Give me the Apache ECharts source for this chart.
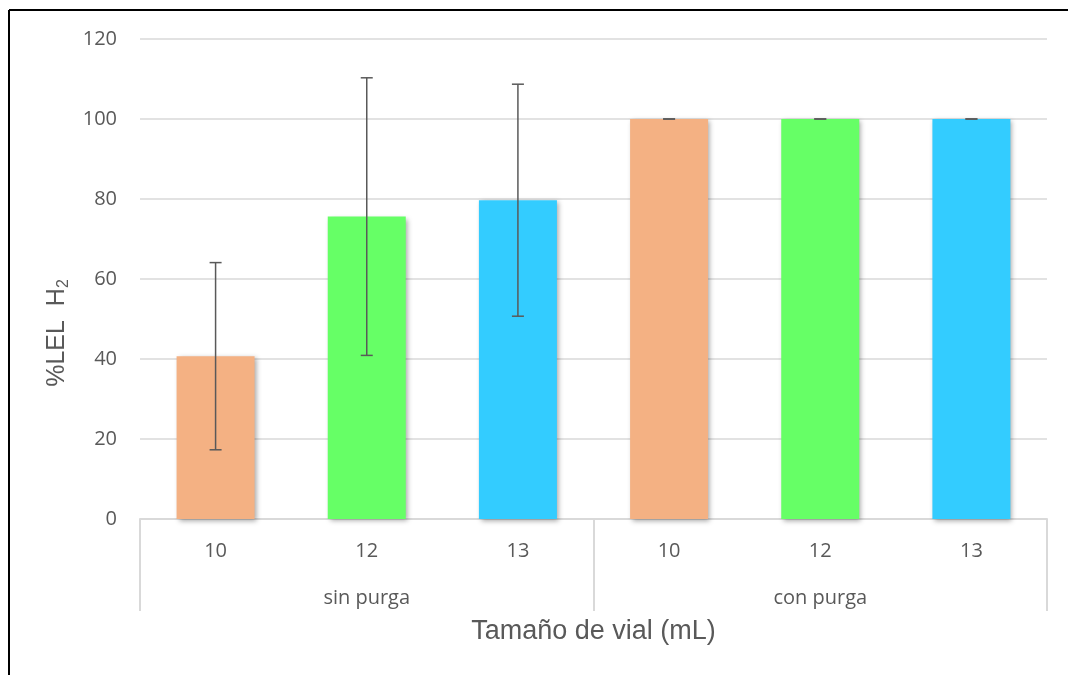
<!DOCTYPE html>
<html>
<head>
<meta charset="utf-8">
<script src="https://cdn.jsdelivr.net/npm/echarts@6/dist/echarts.min.js"></script>
<style>
html,body{margin:0;padding:0;background:#fff;}
#c{width:1068px;height:675px;}
</style>
</head>
<body>
<div id="c"></div>
<script>
const categories = ['10', '12', '13', '10', '12', '13'];
const groups = ['sin purga', 'con purga'];
const means = [40.7, 75.6, 79.7, 100, 100, 100];
const errors = [23.4, 34.7, 29.0, 0, 0, 0];
const yTicks = [0, 20, 40, 60, 80, 100, 120];

const palette = ['#F4B183', '#66FF66', '#33CCFF'];
const textColor = '#595959';
const gridColor = '#d9d9d9';

const chart = echarts.init(document.getElementById('c'), null, {renderer: 'canvas'});

const barData = means.map((v, i) => ({
  value: v,
  itemStyle: { color: palette[i % 3] }
}));
const errData = means.map((v, i) => [i, v - errors[i], v + errors[i]]);

const option = {
  animation: false,
  backgroundColor: '#ffffff',
  grid: { left: 140, right: 21, top: 39, bottom: 156, containLabel: false },
  xAxis: [
    {
      type: 'category',
      data: categories,
      position: 'bottom',
      axisLine: { show: true, lineStyle: { color: gridColor, width: 2 } },
      axisTick: { show: false },
      axisLabel: { color: textColor, fontFamily: 'Open Sans', fontSize: 20, margin: 22 },
      name: 'Tamaño de vial (mL)',
      nameLocation: 'middle',
      nameGap: 99,
      nameTextStyle: { color: textColor, fontFamily: 'Liberation Sans', fontSize: 27 }
    },
    {
      type: 'category',
      data: groups,
      position: 'bottom',
      offset: 0,
      axisLine: { show: false },
      axisTick: { show: true, length: 92, lineStyle: { color: gridColor, width: 2 } },
      axisLabel: { color: textColor, fontFamily: 'Open Sans', fontSize: 20, margin: 69 }
    }
  ],
  yAxis: {
    type: 'value',
    min: yTicks[0],
    max: yTicks[yTicks.length - 1],
    interval: 20,
    axisLine: { show: false },
    axisTick: { show: false },
    splitLine: { lineStyle: { color: gridColor, width: 1.5 } },
    axisLabel: { color: textColor, fontFamily: 'Open Sans', fontSize: 20, margin: 23 },
    name: '%LEL  H{sub|2}',
    nameLocation: 'middle',
    nameGap: 68,
    nameRotate: 90,
    nameTextStyle: {
      color: textColor, fontFamily: 'Liberation Sans', fontSize: 25, lineHeight: 30,
      padding: [0, 108, 0, 0],
      rich: {
        sub: { fontSize: 16, fontFamily: 'Liberation Sans', color: textColor, verticalAlign: 'bottom', lineHeight: 16 }
      }
    }
  },
  series: [
    {
      type: 'bar',
      xAxisIndex: 0,
      data: barData,
      barWidth: 78,
      itemStyle: {
        shadowColor: 'rgba(0,0,0,0.35)',
        shadowBlur: 5,
        shadowOffsetX: 2,
        shadowOffsetY: 2
      },
      z: 2
    },
    {
      type: 'custom',
      xAxisIndex: 0,
      data: errData,
      z: 5,
      renderItem: function (params, api) {
        const x = api.value(0);
        const lo = api.coord([x, api.value(1)]);
        const hi = api.coord([x, api.value(2)]);
        const hw = 6;
        const style = { stroke: '#595959', lineWidth: 1.5 };
        return {
          type: 'group',
          children: [
            { type: 'line', shape: { x1: lo[0], y1: lo[1], x2: hi[0], y2: hi[1] }, style: style },
            { type: 'line', shape: { x1: hi[0] - hw, y1: hi[1], x2: hi[0] + hw, y2: hi[1] }, style: style },
            { type: 'line', shape: { x1: lo[0] - hw, y1: lo[1], x2: lo[0] + hw, y2: lo[1] }, style: style }
          ]
        };
      }
    }
  ],
  graphic: [
    { type: 'line', shape: { x1: 9, y1: 10, x2: 1068, y2: 10 }, style: { stroke: '#000', lineWidth: 2 } },
    { type: 'line', shape: { x1: 9, y1: 10, x2: 9, y2: 675 }, style: { stroke: '#000', lineWidth: 2 } }
  ]
};
chart.setOption(option);
</script>
</body>
</html>
